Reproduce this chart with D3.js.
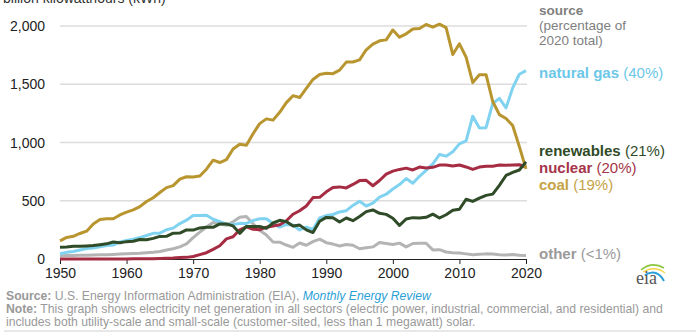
<!DOCTYPE html>
<html>
<head>
<meta charset="utf-8">
<script src="https://cdn.jsdelivr.net/npm/d3@7"></script>
<style>
body { margin: 0; background: #fff; }
svg { display: block; font-family: "Liberation Sans", Arial, sans-serif; }
</style>
</head>
<body>
<svg width="700" height="332"></svg>
<script>
// values in billion kWh, 1950-2020
const years = d3.range(1950, 2021)

const coal = [155,185,195,219,239,301,339,346,345,378,403,422,450,494,526,571,613,630,685,706,
	704,713,771,848,828,853,944,985,976,1075,1162,1203,1192,1259,1342,1402,1386,1464,1541,1584,
	1594,1591,1621,1690,1691,1709,1796,1845,1873,1881,1966,1904,1933,1974,1978,2013,1991,2016,1986,1756,
	1847,1733,1514,1581,1582,1352,1239,1206,1146,965,774]
const naturalGas = [45,57,65,78,90,95,105,115,120,147,158,169,184,202,220,222,251,265,304,333,
	373,374,376,341,320,300,295,306,305,330,346,346,305,274,297,292,249,273,253,352,
	373,382,404,415,460,496,455,479,531,556,601,639,691,650,710,761,816,897,883,921,
	988,1014,1226,1125,1127,1335,1379,1297,1469,1586,1617]
const nuclear = [0,0,0,0,0,0,0,0,0,0,1,2,2,3,3,4,6,8,13,14,
	22,38,54,83,114,173,191,251,276,255,251,273,283,294,328,384,414,455,527,529,
	577,613,619,610,640,673,675,629,674,728,754,769,780,764,789,782,787,806,806,799,
	807,790,769,789,797,797,806,805,807,809,790]
const renewables = [101,104,109,109,112,116,123,130,146,140,149,153,168,166,177,194,195,222,223,250,
	248,267,273,272,301,300,284,220,280,280,279,263,309,332,321,284,291,250,227,324,
	357,355,318,352,329,365,407,421,392,383,350,288,343,355,351,358,385,352,380,418,
	427,513,494,522,546,557,632,717,743,764,834]
const other = [28,30,31,32,33,34,36,37,39,42,46,48,50,54,58,65,78,88,104,130,
	184,230,274,314,301,289,320,358,365,303,246,206,146,144,120,100,137,118,149,170,
	140,128,112,124,118,88,97,104,142,133,124,136,104,133,136,135,78,80,60,54,
	52,44,37,41,44,42,37,35,38,32,29]

const yTicks = [0, 500, 1000, 1500, 2000]
const xTicks = [1950, 1960, 1970, 1980, 1990, 2000, 2010, 2020]

const series = [
	{ name: "other", pct: "(<1%)", values: other, color: "#b4b4b4", text: "#9a9a9a", ly: 259 },
	{ name: "natural gas", pct: "(40%)", values: naturalGas, color: "#80d3f0", text: "#6cc7e8", ly: 78 },
	{ name: "nuclear", pct: "(20%)", values: nuclear, color: "#a52c42", text: "#a5344a", ly: 173 },
	{ name: "coal", pct: "(19%)", values: coal, color: "#b8952f", text: "#c6a346", ly: 190 },
	{ name: "renewables", pct: "(21%)", values: renewables, color: "#2f4b27", text: "#2f4b27", ly: 156 },
]

var svg = d3.select("svg")

var x = d3.scaleLinear().domain([1950, 2020]).range([60, 526])
var y = d3.scaleLinear().domain([0, 2000]).range([259, 26])

// gridlines
svg.append("g")
	.selectAll("line")
	.data(yTicks.filter(d => d > 0))
	.enter()
	.append("line")
	.attr("x1", 60)
	.attr("x2", 527)
	.attr("y1", d => y(d))
	.attr("y2", d => y(d))
	.attr("stroke", "#dcdcdc")
	.attr("stroke-width", 1.5)

// y labels
svg.append("g")
	.selectAll("text")
	.data(yTicks)
	.enter()
	.append("text")
	.attr("x", 45)
	.attr("y", d => y(d) + 5)
	.attr("text-anchor", "end")
	.attr("font-size", 14)
	.attr("fill", "#222")
	.text(d3.format(","))

// title sits partly above the top edge, as in the original
svg.append("text")
	.attr("x", 3)
	.attr("y", 3)
	.attr("font-size", 14)
	.attr("fill", "#333")
	.text("billion kilowatthours (kWh)")

// x axis
var xAxis = svg.append("g")
	.attr("transform", "translate(0," + y(0) + ")")
	.call(d3.axisBottom(x).tickValues(xTicks).tickFormat(d3.format("d")).tickSize(5).tickSizeOuter(0))
xAxis.select(".domain").attr("stroke", "#222").attr("stroke-width", 1.2)
xAxis.selectAll(".tick line").attr("stroke", "#222")
xAxis.selectAll(".tick text")
	.attr("font-size", 14)
	.attr("font-family", "Liberation Sans, Arial, sans-serif")
	.attr("fill", "#222")
	.attr("dy", "0.95em")
	.attr("y", 6)

// lines
var line = d3.line()
	.x((d, i) => x(years[i]))
	.y(d => y(d))

svg.append("g")
	.selectAll("path")
	.data(series)
	.enter()
	.append("path")
	.attr("d", d => line(d.values))
	.attr("fill", "none")
	.attr("stroke", d => d.color)
	.attr("stroke-width", 3)
	.attr("stroke-linejoin", "round")

// right labels
var lab = svg.append("g").attr("font-size", 13.5)
lab.append("text").attr("x", 539).attr("y", 15).attr("font-weight", "bold").attr("fill", "#808080").text("source")
lab.append("text").attr("x", 539).attr("y", 30).attr("fill", "#808080").text("(percentage of")
lab.append("text").attr("x", 539).attr("y", 45).attr("fill", "#808080").text("2020 total)")

var labs = lab.selectAll(".lbl")
	.data(series)
	.enter()
	.append("text")
	.attr("class", "lbl")
	.attr("x", 539)
	.attr("y", d => d.ly)
	.attr("font-size", 15)
	.attr("fill", d => d.text)
labs.append("tspan").attr("font-weight", "bold").text(d => d.name + " ")
labs.append("tspan").text(d => d.pct)

// eia logo
var logo = svg.append("g")
logo.append("path").attr("d", "M641,270 Q652,261 664,268").attr("fill", "none").attr("stroke", "#8cc63f").attr("stroke-width", 1.6)
logo.append("path").attr("d", "M643,272 Q655,265 665,273").attr("fill", "none").attr("stroke", "#f5d547").attr("stroke-width", 1.4)
logo.append("path").attr("d", "M645,275 Q657,268 664,281").attr("fill", "none").attr("stroke", "#2a9fd6").attr("stroke-width", 2)
logo.append("text").attr("x", 636).attr("y", 284).attr("font-family", "Liberation Serif, serif").attr("font-size", 18).attr("fill", "#555").text("eia")

// footer
var foot = svg.append("g")
	.attr("font-family", "Liberation Sans, Arial, sans-serif")
	.attr("font-size", 12.2)
	.attr("fill", "#999")
var s1 = foot.append("text").attr("x", 6).attr("y", 300)
s1.append("tspan").attr("font-weight", "bold").text("Source:")
s1.append("tspan").text(" U.S. Energy Information Administration (EIA), ")
s1.append("tspan").attr("font-style", "italic").attr("fill", "#2a9fd6").text("Monthly Energy Review")
var s2 = foot.append("text").attr("x", 6).attr("y", 313)
s2.append("tspan").attr("font-weight", "bold").text("Note:")
s2.append("tspan").text(" This graph shows electricity net generation in all sectors (electric power, industrial, commercial, and residential) and")
foot.append("text").attr("x", 6).attr("y", 326).text("includes both utility-scale and small-scale (customer-sited, less than 1 megawatt) solar.")

svg.append("line").attr("x1", 4).attr("x2", 696).attr("y1", 331).attr("y2", 331).attr("stroke", "#d0d0d0")
</script>
</body>
</html>
